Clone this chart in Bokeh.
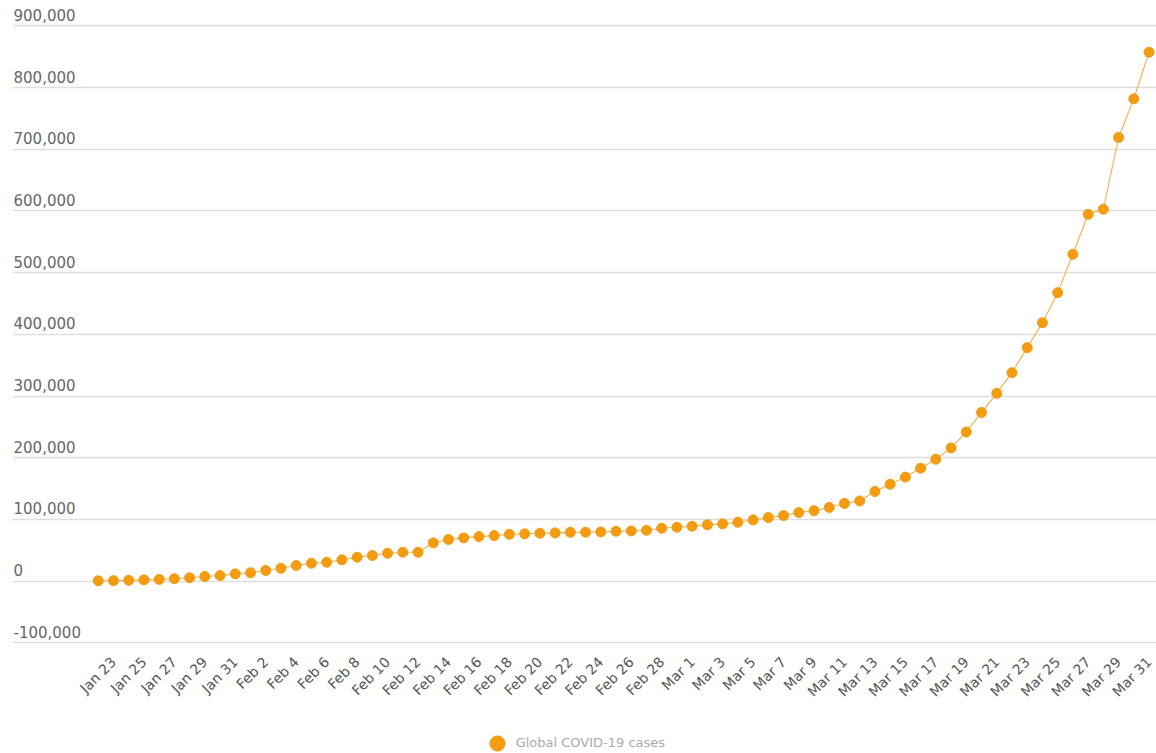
import math

from bokeh.core.properties import value
from bokeh.embed import file_html
from bokeh.models import ColumnDataSource, FixedTicker, Legend, LegendItem, Range1d
from bokeh.plotting import figure
from bokeh.resources import INLINE

# Daily dates, Jan 22 - Mar 31 2020
dates = (
    ["Jan 22", "Jan 23", "Jan 24", "Jan 25", "Jan 26", "Jan 27", "Jan 28", "Jan 29", "Jan 30", "Jan 31"]
    + ["Feb 1", "Feb 2", "Feb 3", "Feb 4", "Feb 5", "Feb 6", "Feb 7", "Feb 8", "Feb 9", "Feb 10",
       "Feb 11", "Feb 12", "Feb 13", "Feb 14", "Feb 15", "Feb 16", "Feb 17", "Feb 18", "Feb 19", "Feb 20",
       "Feb 21", "Feb 22", "Feb 23", "Feb 24", "Feb 25", "Feb 26", "Feb 27", "Feb 28", "Feb 29"]
    + ["Mar 1", "Mar 2", "Mar 3", "Mar 4", "Mar 5", "Mar 6", "Mar 7", "Mar 8", "Mar 9", "Mar 10",
       "Mar 11", "Mar 12", "Mar 13", "Mar 14", "Mar 15", "Mar 16", "Mar 17", "Mar 18", "Mar 19", "Mar 20",
       "Mar 21", "Mar 22", "Mar 23", "Mar 24", "Mar 25", "Mar 26", "Mar 27", "Mar 28", "Mar 29", "Mar 30",
       "Mar 31"]
)

# Cumulative confirmed cases worldwide
cases = [
    600, 900, 1400, 2100, 2900, 4000, 5500, 7600, 9200, 11900,
    13600, 17300, 21000, 25400, 29100, 30700, 34600, 38800, 41600, 45300,
    46900, 47000, 62100, 67500, 70200, 72300, 73900, 76000, 76700, 77700,
    78300, 79300, 79400, 79900, 80900, 81500, 82500, 85800, 87400,
    89000, 91300, 92900, 95500, 99300, 103100, 106300, 111200, 114200, 119500,
    126000, 130100, 145400, 157100, 168700, 183100, 197600, 216000, 241800, 273500,
    304500, 337900, 378500, 418900, 467600, 529800, 594600, 602800, 719000, 781700,
    857200,
]

y_ticks = [-100000, 0, 100000, 200000, 300000, 400000, 500000, 600000, 700000, 800000, 900000]
y_tick_labels = ["-100,000", "0", "100,000", "200,000", "300,000", "400,000",
                 "500,000", "600,000", "700,000", "800,000", "900,000"]

series_name = "Global COVID-19 cases"

FONT = "DejaVu Sans"
DOT = "#f39c12"
LINE = "#f2b04a"

X_START, X_END = -5.63, 69.49
Y_START, Y_END = -279250, 933000
X_LABEL_Y = -125300  # row for the rotated date labels

src = ColumnDataSource(dict(idx=list(range(len(dates))), date=dates, cases=cases))

p = figure(
    frame_width=1144, frame_height=748,
    x_range=Range1d(X_START, X_END), y_range=Range1d(Y_START, Y_END),
    x_axis_location=None, y_axis_location=None,
    output_backend="svg", toolbar_location=None,
    min_border_left=12, min_border_right=0, min_border_top=5, min_border_bottom=0,
    background_fill_color="white", border_fill_color="white",
)
p.outline_line_color = None

# horizontal grid
p.xgrid.visible = False
p.ygrid.ticker = FixedTicker(ticks=y_ticks)
p.ygrid.grid_line_color = "#dddddd"
p.ygrid.grid_line_width = 1.3

# y tick labels sit just above each grid line
ysrc = ColumnDataSource(dict(x=[X_START] * len(y_ticks), y=y_ticks, label=y_tick_labels))
p.text(x="x", y="y", text="label", source=ysrc, x_offset=1, y_offset=-11,
       text_font=value(FONT), text_font_size="15px", text_color="#666666",
       text_align="left", text_baseline="alphabetic")

# rotated date labels, every second day
xi = list(range(1, len(dates), 2))
xsrc = ColumnDataSource(dict(x=xi, y=[X_LABEL_Y] * len(xi), label=[dates[i] for i in xi]))
p.text(x="x", y="y", text="label", source=xsrc, angle=math.pi / 4, x_offset=0, y_offset=1,
       text_font=value(FONT), text_font_size="14px", text_color="#555555",
       text_align="right", text_baseline="middle")

p.line(x="idx", y="cases", source=src, line_color=LINE, line_width=1.1)
p.scatter(x="idx", y="cases", source=src, size=10, fill_color=DOT, line_color=DOT)

# legend swatch (larger marker than the data dots)
swatch = p.scatter(x="idx", y="cases", source=src, fill_color=DOT, line_color=DOT, visible=False)
legend = Legend(
    items=[LegendItem(label=series_name, renderers=[swatch])],
    location=(465.7, -8.7), orientation="horizontal",
    glyph_width=38, glyph_height=38, label_standoff=0,
    padding=0, margin=0, spacing=0,
    border_line_color=None, background_fill_alpha=0,
    label_text_font=FONT, label_text_font_size="13px", label_text_color="#aaaaaa",
    label_text_baseline="middle",
)
p.add_layout(legend, "center")

open("out.html", "w").write(file_html(p, INLINE))
